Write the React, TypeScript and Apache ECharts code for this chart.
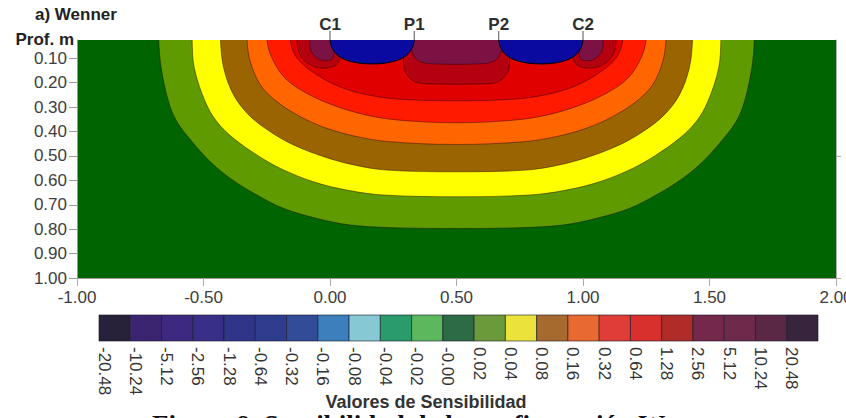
import React, { useEffect, useRef } from "react";
import * as echarts from "echarts";

// ---------- axes ----------
const depthTickValues = [0.1, 0.2, 0.3, 0.4, 0.5, 0.6, 0.7, 0.8, 0.9, 1.0];
const rightTickValues = [0.5, 1.0];

// ---------- electrodes ----------
const electrodeNames = ["C1", "P1", "P2", "C2"];
const electrodeX = [0, 0.333, 0.667, 1];

// ---------- colour scale ----------
const colorbarLabels = [
  "-20.48", "-10.24", "-5.12", "-2.56", "-1.28", "-0.64", "-0.32", "-0.16",
  "-0.08", "-0.04", "-0.02", "-0.00", "0.02", "0.04", "0.08", "0.16",
  "0.32", "0.64", "1.28", "2.56", "5.12", "10.24", "20.48",
];
const colorbarColors = [
  "#28213a", "#3b2470", "#3d2a80", "#382f88", "#30358a", "#2f3d8e", "#334c98", "#3d7fbd",
  "#86c8d4", "#2a9c6c", "#5cb85c", "#2c6b45", "#6a9a3a", "#ebe33c", "#a6692e", "#e86a30",
  "#e03c38", "#d8302c", "#b02c28", "#74294a", "#6e2a4a", "#5a2844", "#38243c",
];

// ---------- contour boundaries read from the section, [x (m), depth (m)] ----------
const contourOlive = [
  [-0.677, 0.025], [-0.667, 0.141], [-0.638, 0.278], [-0.605, 0.36], [-0.545, 0.442],
  [-0.473, 0.524], [-0.394, 0.592], [-0.289, 0.66], [-0.183, 0.715], [-0.051, 0.756],
  [0.08, 0.783], [0.252, 0.794], [0.5, 0.797], [0.748, 0.794], [0.92, 0.783],
  [1.051, 0.756], [1.183, 0.715], [1.289, 0.66], [1.394, 0.592], [1.473, 0.524],
  [1.545, 0.442], [1.605, 0.36], [1.638, 0.278], [1.667, 0.141], [1.677, 0.025],
];
const contourYellow = [
  [-0.545, 0.025], [-0.536, 0.141], [-0.493, 0.278], [-0.447, 0.36], [-0.381, 0.428],
  [-0.289, 0.496], [-0.196, 0.551], [-0.065, 0.606], [0.067, 0.64], [0.212, 0.66],
  [0.5, 0.667], [0.788, 0.66], [0.933, 0.64], [1.065, 0.606], [1.196, 0.551],
  [1.289, 0.496], [1.381, 0.428], [1.447, 0.36], [1.493, 0.278], [1.536, 0.141], [1.545, 0.025],
];
const contourBrown = [
  [-0.433, 0.025], [-0.42, 0.141], [-0.381, 0.25], [-0.321, 0.332], [-0.236, 0.401],
  [-0.144, 0.455], [-0.025, 0.503], [0.094, 0.537], [0.225, 0.558], [0.5, 0.565],
  [0.775, 0.558], [0.906, 0.537], [1.025, 0.503], [1.144, 0.455], [1.236, 0.401],
  [1.321, 0.332], [1.381, 0.25], [1.42, 0.141], [1.433, 0.025],
];
const contourOrange = [
  [-0.328, 0.025], [-0.315, 0.114], [-0.275, 0.209], [-0.209, 0.278], [-0.117, 0.339],
  [-0.012, 0.387], [0.107, 0.421], [0.238, 0.442], [0.5, 0.453], [0.762, 0.442],
  [0.893, 0.421], [1.012, 0.387], [1.117, 0.339], [1.209, 0.278], [1.275, 0.209],
  [1.315, 0.114], [1.328, 0.025],
];
const contourRed = [
  [-0.249, 0.025], [-0.229, 0.1], [-0.177, 0.182], [-0.091, 0.244], [0.028, 0.298],
  [0.173, 0.339], [0.318, 0.357], [0.5, 0.364], [0.682, 0.357], [0.827, 0.339],
  [0.972, 0.298], [1.091, 0.244], [1.177, 0.182], [1.229, 0.1], [1.249, 0.025],
];
const contourRed2 = [
  [-0.157, 0.025], [-0.13, 0.1], [-0.051, 0.168], [0.054, 0.223], [0.186, 0.257],
  [0.318, 0.27], [0.5, 0.274], [0.682, 0.27], [0.814, 0.257], [0.946, 0.223],
  [1.051, 0.168], [1.13, 0.1], [1.157, 0.025],
];
const contourDarkRedLeft = [
  [-0.13, 0.025], [-0.125, 0.07], [-0.1, 0.11], [-0.06, 0.135], [-0.02, 0.14],
  [0.02, 0.13], [0.04, 0.1], [0.04, 0.025],
];
const contourDarkRedCenter = [
  [0.29, 0.025], [0.29, 0.11], [0.3, 0.16], [0.34, 0.198], [0.42, 0.205],
  [0.58, 0.205], [0.66, 0.198], [0.7, 0.16], [0.71, 0.11], [0.71, 0.025],
];
const contourDarkRedRight = [
  [0.96, 0.025], [0.96, 0.1], [0.98, 0.13], [1.02, 0.14], [1.06, 0.135],
  [1.1, 0.11], [1.125, 0.07], [1.13, 0.025],
];
const contourMaroonLeft = [
  [-0.08, 0.025], [-0.075, 0.07], [-0.05, 0.1], [-0.02, 0.11], [0.01, 0.1], [0.02, 0.025],
];
const contourMaroonCenter = [
  [0.32, 0.025], [0.33, 0.09], [0.36, 0.115], [0.42, 0.123], [0.58, 0.123],
  [0.64, 0.115], [0.67, 0.09], [0.68, 0.025],
];
const contourMaroonRight = [
  [0.98, 0.025], [0.99, 0.1], [1.02, 0.11], [1.05, 0.1], [1.075, 0.07], [1.08, 0.025],
];
const contourBlueLeft = [
  [0.0, 0.025], [0.012, 0.065], [0.04, 0.095], [0.09, 0.115], [0.167, 0.123],
  [0.243, 0.115], [0.293, 0.095], [0.321, 0.065], [0.333, 0.025],
];
const contourBlueRight = [
  [0.667, 0.025], [0.679, 0.065], [0.707, 0.095], [0.757, 0.115], [0.834, 0.123],
  [0.91, 0.115], [0.96, 0.095], [0.988, 0.065], [1.0, 0.025],
];

// fill colours of the section, from the lowest band upward
const fieldColors = [
  "#006400", "#5e9a00", "#ffff00", "#9a6400", "#ff6600",
  "#ff1a00", "#e00000", "#b4000f", "#7c1244", "#0a0aa0",
];

const regions: { pts: number[][]; level: number }[] = [
  { pts: contourOlive, level: 1 },
  { pts: contourYellow, level: 2 },
  { pts: contourBrown, level: 3 },
  { pts: contourOrange, level: 4 },
  { pts: contourRed, level: 5 },
  { pts: contourRed2, level: 6 },
  { pts: contourDarkRedLeft, level: 7 },
  { pts: contourDarkRedCenter, level: 7 },
  { pts: contourDarkRedRight, level: 7 },
  { pts: contourMaroonLeft, level: 8 },
  { pts: contourMaroonCenter, level: 8 },
  { pts: contourMaroonRight, level: 8 },
  { pts: contourBlueLeft, level: 9 },
  { pts: contourBlueRight, level: 9 },
];

const SANS = '"Liberation Sans", Arial, Helvetica, sans-serif';
const SERIF = '"Liberation Serif", "Times New Roman", serif';
const TOP_DEPTH = 0.025;

export default function App() {
  const ref = useRef<HTMLDivElement>(null);
  useEffect(() => {
    if (!ref.current) return;
    const chart = echarts.init(ref.current, null, { renderer: "svg" });
    const option: any = {
      animation: false,
      backgroundColor: "#ffffff",
      grid: [
        {
          left: 77, right: 10, top: 40, bottom: 140,
          show: true, backgroundColor: fieldColors[0], borderWidth: 0,
          outerBoundsMode: "none",
        },
        { left: 99, top: 315, width: 719, height: 26, show: false, outerBoundsMode: "none" },
      ],
      xAxis: [
        {
          type: "value", gridIndex: 0, min: -1, max: 2, interval: 0.5, position: "bottom",
          axisLine: { show: true, onZero: false, lineStyle: { color: "#9a9a9a", width: 1 } },
          axisTick: { show: true, length: 8, lineStyle: { color: "#aaaaaa", width: 1 } },
          axisLabel: {
            formatter: (v: number) => v.toFixed(2), fontSize: 17, fontFamily: SANS,
            color: "#3d3d3d", margin: 11,
          },
          splitLine: { show: false },
        },
        { type: "value", gridIndex: 1, min: 0, max: 23, show: false },
      ],
      yAxis: [
        {
          type: "value", gridIndex: 0, inverse: true, min: TOP_DEPTH, max: 1,
          axisLine: { show: true, onZero: false, lineStyle: { color: "#9a9a9a", width: 1 } },
          axisTick: { show: true, length: 8, customValues: depthTickValues, lineStyle: { color: "#9a9a9a" } },
          axisLabel: {
            customValues: depthTickValues, formatter: (v: number) => v.toFixed(2),
            fontSize: 17, fontFamily: SANS, color: "#3d3d3d", margin: 10,
          },
          splitLine: { show: false },
        },
        {
          type: "value", gridIndex: 0, inverse: true, min: TOP_DEPTH, max: 1, position: "right",
          axisLine: { show: true, onZero: false, lineStyle: { color: "#b0b0b0", width: 1 } },
          axisTick: { show: true, length: 5, customValues: rightTickValues, lineStyle: { color: "#aaaaaa" } },
          axisLabel: { show: false },
          splitLine: { show: false },
        },
        { type: "value", gridIndex: 1, min: 0, max: 1, show: false },
      ],
      series: [
        {
          type: "custom",
          name: "sensibilidad",
          xAxisIndex: 0,
          yAxisIndex: 0,
          clip: true,
          data: regions.map((r) => r.pts[0]),
          renderItem: (params: any, api: any) => {
            const r = regions[params.dataIndex];
            const isBlue = r.level === 9;
            const pix = r.pts.map((p) => api.coord(p));
            const first = pix[0];
            const last = pix[pix.length - 1];
            // lead-in points above the section so the smoothed outline stays straight at the surface
            const points = [[first[0], first[1] - 30], ...pix, [last[0], last[1] - 30]];
            return {
              type: "polygon",
              shape: { points, smooth: 0.35 },
              style: {
                fill: fieldColors[r.level],
                stroke: isBlue ? "#000000" : "rgba(25,0,0,0.55)",
                lineWidth: isBlue ? 1 : 0.8,
              },
            };
          },
        },
        {
          type: "custom",
          name: "electrodos",
          xAxisIndex: 0,
          yAxisIndex: 0,
          clip: false,
          data: electrodeX.map((x) => [x, TOP_DEPTH]),
          renderItem: (params: any, api: any) => {
            const p = api.coord([api.value(0), api.value(1)]);
            return {
              type: "group",
              children: [
                {
                  type: "line",
                  shape: { x1: p[0], y1: p[1] - 9, x2: p[0], y2: p[1] },
                  style: { stroke: "#555555", lineWidth: 1 },
                },
                {
                  type: "text",
                  x: p[0],
                  y: p[1] - 16,
                  style: {
                    text: electrodeNames[params.dataIndex],
                    fill: "#2e2e2e",
                    font: `bold 17px ${SANS}`,
                    align: "center",
                    verticalAlign: "middle",
                  },
                },
              ],
            };
          },
        },
        {
          type: "custom",
          name: "escala",
          xAxisIndex: 1,
          yAxisIndex: 2,
          clip: false,
          data: colorbarLabels.map((_, i) => [i, 0]),
          renderItem: (params: any, api: any) => {
            const i = api.value(0);
            const p0 = api.coord([i, 1]);
            const p1 = api.coord([i + 1, 0]);
            return {
              type: "group",
              children: [
                {
                  type: "rect",
                  shape: { x: p0[0], y: p0[1], width: p1[0] - p0[0], height: p1[1] - p0[1] },
                  style: { fill: colorbarColors[params.dataIndex], stroke: "rgba(20,20,35,0.75)", lineWidth: 0.8 },
                },
                {
                  type: "text",
                  x: p0[0] + 5,
                  y: p1[1] + 6,
                  rotation: -Math.PI / 2,
                  style: {
                    text: colorbarLabels[params.dataIndex],
                    fill: "#333333",
                    font: `17px ${SANS}`,
                    align: "left",
                    verticalAlign: "middle",
                  },
                },
              ],
            };
          },
        },
      ],
      graphic: [
        {
          type: "text", left: 35, top: 6,
          style: { text: "a) Wenner", font: `bold 17px ${SANS}`, fill: "#222222" },
        },
        {
          type: "text", x: 74, y: 39,
          style: { text: "Prof. m", font: `bold 17px ${SANS}`, fill: "#222222", align: "right", verticalAlign: "middle" },
        },
        {
          type: "text", x: 426, y: 402,
          style: { text: "Valores de Sensibilidad", font: `bold 18px ${SANS}`, fill: "#333333", align: "center", verticalAlign: "middle" },
        },
        {
          type: "text", x: 152, y: 425,
          style: {
            text: "Figura 9. Sensibilidad de la configuración Wenner",
            font: `bold 27px ${SERIF}`, fill: "#111111", align: "left", verticalAlign: "middle",
          },
        },
      ],
    };
    chart.setOption(option);
    return () => chart.dispose();
  }, []);
  return (
    <div
      ref={ref}
      style={{ position: "fixed", left: 0, top: 0, width: 846, height: 418, background: "#ffffff" }}
    />
  );
}
